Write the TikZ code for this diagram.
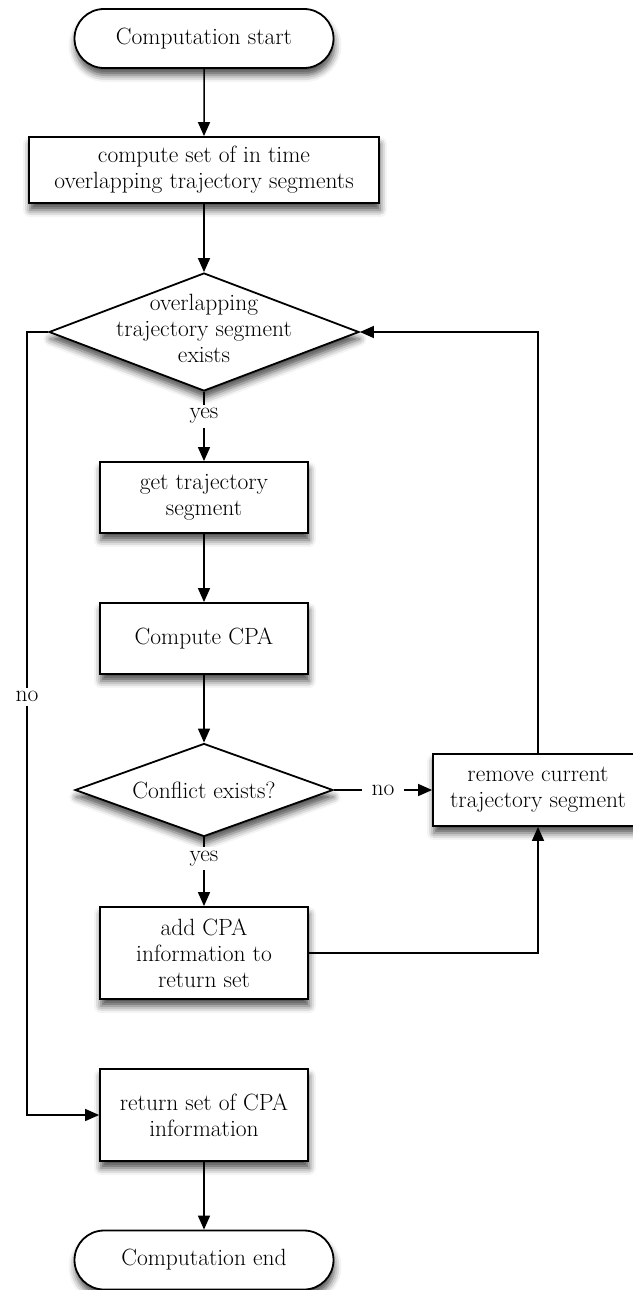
\documentclass[tikz,border=0pt]{standalone}
\usepackage{fontspec}
\usetikzlibrary{shapes.geometric,shapes.misc,arrows.meta,shadows.blur}

\begin{document}
\begin{tikzpicture}[x=1pt,y=1pt,
    font=\fontsize{23.5}{26}\selectfont,
    base/.style={draw, line width=1.8pt, fill=white, align=center, inner sep=0pt,
        blur shadow={shadow xshift=1pt, shadow yshift=-7pt, shadow blur radius=7pt, shadow opacity=70}},
    terminal/.style={base, rounded rectangle, minimum width=259pt, minimum height=59pt},
    process/.style={base, rectangle, minimum width=208pt, minimum height=71pt},
    decision/.style={base, diamond},
    flowline/.style={line width=1.5pt, -{Triangle[length=14pt,width=12pt]}},
    flowlabel/.style={fill=white, inner sep=4pt}
]
    \useasboundingbox (0,0) rectangle (632,-1290);

    % Start and end
    \node[terminal] (start) at (204,-38.5) {Computation start};
    \node[terminal] (stop) at (204,-1260) {Computation end};

    % Main column
    \node[process, minimum width=350pt, minimum height=66pt] (overlap) at (204,-170)
        {compute set of in time\\overlapping trajectory segments};
    \node[decision, minimum width=310pt, minimum height=118pt,
        label={[align=center, yshift=4pt]center:overlapping\\trajectory segment\\exists}] (exists) at (204,-332) {};
    \node[process] (gettraj) at (204,-497.5) {get trajectory\\segment};
    \node[process] (cpa) at (204,-638.5) {Compute CPA};
    \node[decision, minimum width=258pt, minimum height=93pt,
        label={center:Conflict exists?}] (conflict) at (204,-790) {};
    \node[process, minimum height=92pt] (addcpa) at (204,-953) {add CPA\\information to\\return set};
    \node[process, minimum height=92pt] (result) at (204,-1115) {return set of CPA\\information};

    % Side box
    \node[process, minimum width=210pt, minimum height=72pt] (remove) at (538,-790)
        {remove current\\trajectory segment};
    \coordinate (nobend) at (27,-332);

    % Connectors
    \draw[flowline] (start) -- (overlap);
    \draw[flowline] (overlap) -- (exists);
    \draw[flowline] (exists) -- node[flowlabel, pos=0.35] {yes} (gettraj);
    \draw[flowline] (gettraj) -- (cpa);
    \draw[flowline] (cpa) -- (conflict);
    \draw[flowline] (conflict) -- node[flowlabel, pos=0.31] {yes} (addcpa);
    \draw[flowline] (conflict) -- node[flowlabel, inner xsep=10pt] {no} (remove);
    \draw[flowline] (addcpa) -| (remove);
    \draw[flowline] (remove) |- (exists);
    \draw[flowline] (exists.west) -- (nobend) |- node[flowlabel, pos=0.233] {no} (result);
    \draw[flowline] (result) -- (stop);
\end{tikzpicture}
\end{document}
